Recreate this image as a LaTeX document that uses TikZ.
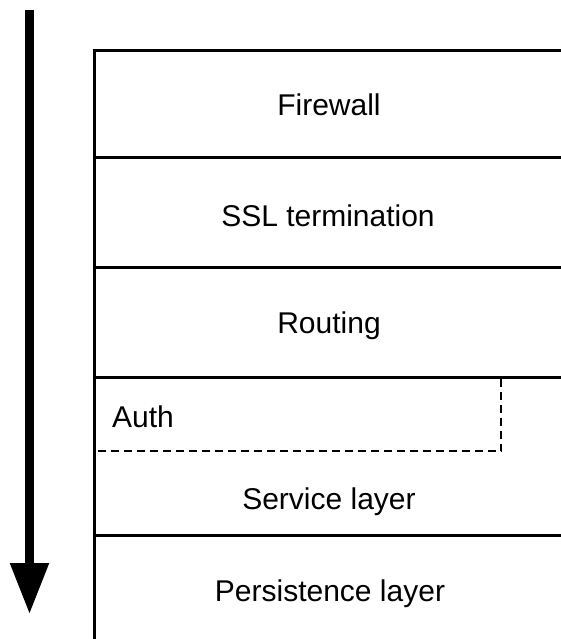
\documentclass[tikz,border=0pt]{standalone}
\usepackage{fontspec}
\setmainfont{Liberation Sans}
\usetikzlibrary{arrows.meta}
\tikzset{
  layerline/.style={line width=3pt, line cap=butt},
  authline/.style={line width=1.8pt, dash pattern=on 8pt off 5pt},
  layertext/.style={anchor=base, inner sep=0pt, font=\fontsize{30}{36}\selectfont},
}
\begin{document}
\begin{tikzpicture}[x=1pt, y=-1pt]
  \useasboundingbox (0,0) rectangle (561,639);

  % flow direction arrow
  \coordinate (arrowtop) at (29.5,10);
  \coordinate (arrowtip) at (29.5,614);
  \draw[line width=8.5pt, -{Triangle[length=51pt, width=37pt]}] (arrowtop) -- (arrowtip);

  % stack frame: left edge and layer separators
  \coordinate (lefttop) at (94,49.5);
  \coordinate (leftbot) at (94,639);
  \draw[layerline] (lefttop) -- (leftbot);
  \foreach \y in {51,158,267,377,535} {
    \draw[layerline] (92.5,\y) -- (561,\y);
  }

  % auth sub-box
  \coordinate (authtl) at (501,378.5);
  \coordinate (authbr) at (501,451);
  \coordinate (authbl) at (95.5,451);
  \draw[authline] (authtl) -- (authbr) -- (authbl);

  % layer labels
  \node[layertext] (firewall)    at (329,116) {Firewall};
  \node[layertext] (ssl)         at (328,226) {SSL termination};
  \node[layertext] (routing)     at (329,333) {Routing};
  \node[layertext, anchor=base west] (auth) at (112,427) {Auth};
  \node[layertext] (service)     at (329,509) {Service layer};
  \node[layertext] (persistence) at (330,601) {Persistence layer};
\end{tikzpicture}
\end{document}
